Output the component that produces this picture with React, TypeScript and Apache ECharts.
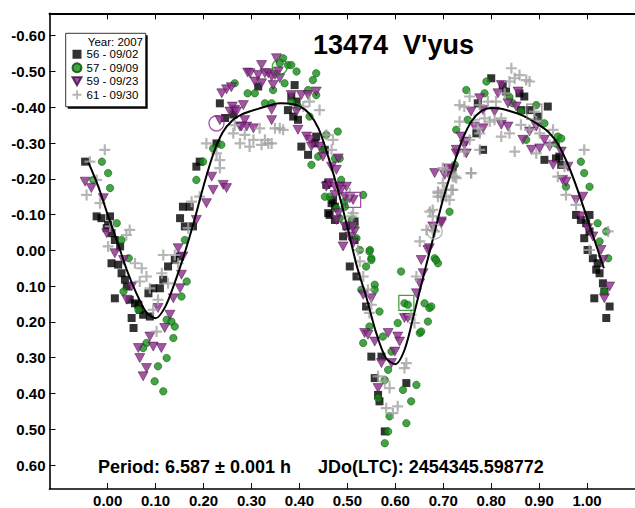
import React, { useEffect, useRef } from "react";
import * as echarts from "echarts";

const FONT = "'Liberation Sans', Arial, Helvetica, sans-serif";

const seriesNames = ["56 - 09/02", "57 - 09/09", "59 - 09/23", "61 - 09/30"];
const yearLabel = "Year: 2007";
const titleText = "13474  V'yus";
const periodText = "Period: 6.587 \u00b1 0.001 h";
const epochText = "JDo(LTC): 2454345.598772";

const xTicks = [0, 0.1, 0.2, 0.3, 0.4, 0.5, 0.6, 0.7, 0.8, 0.9, 1.0];
const yTicks = [-0.6, -0.5, -0.4, -0.3, -0.2, -0.1, 0, 0.1, 0.2, 0.3, 0.4, 0.5, 0.6];

// [phase, magnitude]
const session56 = [
  [-0.047, -0.248], [-0.023, -0.095], [-0.013, -0.09], [0.005, -0.095], [0.001, -0.071], [-0.002, -0.062],
  [0.008, -0.048], [0.015, -0.029], [0.026, -0.011], [0.008, 0.036], [0.022, 0.04], [0.029, 0.064],
  [0.036, 0.082], [0.04, 0.101], [0.015, 0.134], [0.046, 0.138], [0.057, 0.148], [0.064, 0.152],
  [0.067, 0.166], [0.05, 0.189], [0.054, 0.217], [0.074, 0.18], [0.088, 0.185], [0.085, 0.12],
  [0.095, 0.106], [0.109, 0.106], [0.116, 0.082], [0.126, 0.045], [0.14, 0.027], [0.151, 0.017],
  [0.157, -0.122], [0.151, -0.09], [0.161, -0.067], [0.178, -0.067], [0.171, -0.122], [0.185, -0.234],
  [0.192, -0.248], [0.227, -0.299], [0.234, -0.411], [0.245, -0.37], [0.262, -0.38], [0.314, -0.458],
  [0.39, -0.462], [0.383, -0.43], [0.394, -0.416], [0.376, -0.392], [0.387, -0.374], [0.397, -0.365],
  [0.404, -0.29], [0.418, -0.267], [0.435, -0.318], [0.432, -0.299], [0.453, -0.281], [0.46, -0.188],
  [0.467, -0.132], [0.474, -0.122], [0.46, -0.104], [0.491, -0.039], [0.498, -0.067], [0.515, -0.081],
  [0.515, -0.029], [0.456, -0.183], [0.463, -0.099], [0.474, -0.085], [0.47, -0.141], [0.505, 0.045],
  [0.519, 0.073], [0.539, 0.157], [0.55, 0.297], [0.571, 0.297], [0.557, 0.357], [0.564, 0.404],
  [0.567, 0.422], [0.578, 0.506], [0.623, 0.371], [0.8, -0.481], [0.824, -0.462], [0.831, -0.444],
  [0.859, -0.439], [0.869, -0.43], [0.88, -0.392], [0.918, -0.402], [0.911, -0.253], [0.935, -0.257],
  [0.942, -0.262], [0.946, -0.239], [0.783, -0.281], [0.769, -0.327], [0.772, -0.411], [0.862, -0.392],
  [0.897, -0.374], [0.977, -0.099], [0.987, -0.085], [1.005, -0.099], [0.998, -0.076], [1.005, -0.053],
  [0.994, -0.034], [1.001, -0.001], [1.012, 0.022], [1.022, 0.036], [1.019, 0.054], [1.026, 0.064],
  [1.015, 0.134], [1.047, 0.157], [1.04, 0.189], [1.033, 0.092], [1.036, 0.115],
];

const session57 = [
  [-0.012, -0.248], [0.001, -0.216], [0.005, -0.174], [-0.03, -0.197], [0.019, -0.076], [0.029, -0.029],
  [0.044, 0.022], [0.033, 0.115], [0.064, 0.166], [0.165, 0.087], [0.154, 0.129], [0.123, 0.194],
  [0.14, 0.213], [0.133, 0.199], [0.137, 0.245], [0.081, 0.259], [0.074, 0.273], [0.123, 0.301],
  [0.105, 0.324], [0.098, 0.366], [0.116, 0.394], [0.185, -0.197], [0.199, -0.248], [0.22, -0.285],
  [0.237, -0.295], [0.161, -0.029], [0.265, -0.467], [0.292, -0.439], [0.307, -0.439], [0.328, -0.411],
  [0.342, -0.411], [0.345, -0.448], [0.366, -0.537], [0.359, -0.523], [0.376, -0.518], [0.383, -0.518],
  [0.394, -0.5], [0.369, -0.467], [0.418, -0.448], [0.435, -0.434], [0.428, -0.476], [0.435, -0.495],
  [0.421, -0.374], [0.383, -0.416], [0.397, -0.402], [0.425, -0.239], [0.439, -0.262], [0.449, -0.281],
  [0.456, -0.323], [0.474, -0.257], [0.48, -0.332], [0.484, -0.257], [0.487, -0.197], [0.463, -0.15],
  [0.477, -0.118], [0.495, -0.122], [0.509, -0.085], [0.515, -0.071], [0.533, -0.155], [0.547, -0.001],
  [0.55, 0.022], [0.453, -0.15], [0.494, -0.136], [0.484, -0.09], [0.519, -0.034], [0.526, -0.001],
  [0.546, 0.003], [0.55, 0.027], [0.539, 0.045], [0.557, 0.096], [0.557, 0.11], [0.529, 0.11],
  [0.567, 0.171], [0.546, 0.213], [0.533, 0.259], [0.574, 0.241], [0.605, 0.203], [0.612, 0.059],
  [0.619, 0.148], [0.626, 0.152], [0.592, 0.283], [0.585, 0.334], [0.578, 0.362], [0.564, 0.413],
  [0.588, 0.464], [0.623, 0.483], [0.633, 0.422], [0.616, 0.39], [0.644, 0.376], [0.578, 0.539],
  [0.585, 0.506], [0.651, 0.231], [0.654, 0.227], [0.668, 0.199], [0.671, 0.161], [0.661, 0.148],
  [0.682, 0.022], [0.689, 0.036], [0.713, -0.108], [0.748, -0.448], [0.79, -0.472], [0.751, -0.365],
  [0.727, -0.337], [0.786, -0.439], [0.845, -0.411], [0.862, -0.388], [0.873, -0.309], [0.911, -0.355],
  [0.939, -0.318], [0.946, -0.313], [0.935, -0.299], [0.987, -0.248], [0.994, -0.216], [1.005, -0.178],
  [0.956, -0.178], [1.022, -0.076], [1.026, -0.025], [1.04, -0.053], [1.044, 0.022], [1.036, 0.115],
  [0.685, 0.027], [0.72, -0.225], [0.724, -0.239], [0.675, 0.157], [0.838, -0.429], [0.894, -0.406],
];

const session59 = [
  [-0.047, -0.192], [-0.034, -0.174], [-0.009, -0.146], [-0.002, -0.048], [0.015, 0.008], [0.033, 0.027],
  [0.05, 0.101], [0.04, 0.138], [0.105, 0.161], [0.137, 0.134], [0.151, 0.106], [0.154, 0.068],
  [0.147, -0.006], [0.157, 0.017], [0.185, -0.085], [0.206, -0.132], [0.217, -0.206], [0.22, -0.169],
  [0.241, -0.183], [0.248, -0.174], [0.13, 0.18], [0.119, 0.217], [0.088, 0.241], [0.064, 0.273],
  [0.095, 0.269], [0.112, 0.273], [0.067, 0.301], [0.081, 0.329], [0.074, 0.352], [0.234, -0.364],
  [0.255, -0.388], [0.276, -0.346], [0.238, -0.439], [0.248, -0.45], [0.258, -0.456], [0.292, -0.497],
  [0.265, -0.393], [0.342, -0.393], [0.321, -0.518], [0.352, -0.537], [0.297, -0.495], [0.314, -0.49],
  [0.328, -0.495], [0.335, -0.495], [0.342, -0.486], [0.349, -0.49], [0.356, -0.5], [0.359, -0.481],
  [0.307, -0.472], [0.321, -0.467], [0.345, -0.462], [0.283, -0.406], [0.342, -0.364], [0.26, -0.402],
  [0.269, -0.388], [0.286, -0.364], [0.29, -0.346], [0.279, -0.346], [0.304, -0.341], [0.383, -0.434],
  [0.404, -0.434], [0.418, -0.434], [0.435, -0.444], [0.394, -0.388], [0.397, -0.337], [0.415, -0.318],
  [0.422, -0.309], [0.425, -0.29], [0.442, -0.29], [0.449, -0.262], [0.456, -0.178], [0.463, -0.188],
  [0.474, -0.178], [0.467, -0.234], [0.477, -0.225], [0.484, -0.178], [0.495, -0.15], [0.512, -0.141],
  [0.498, -0.178], [0.477, -0.085], [0.495, -0.067], [0.515, -0.053], [0.512, -0.02], [0.491, -0.011],
  [0.505, -0.039], [0.481, -0.257], [0.474, -0.155], [0.487, -0.169], [0.505, -0.146], [0.481, -0.104],
  [0.512, -0.067], [0.533, 0.124], [0.55, 0.134], [0.536, 0.231], [0.543, 0.236], [0.557, 0.255],
  [0.585, 0.231], [0.605, 0.241], [0.609, 0.255], [0.599, 0.283], [0.592, 0.315], [0.571, 0.315],
  [0.564, 0.385], [0.619, 0.189], [0.626, 0.189], [0.644, 0.12], [0.651, 0.092], [0.658, 0.064],
  [0.654, 0.027], [0.668, -0.001], [0.678, -0.067], [0.696, -0.081], [0.682, -0.216], [0.71, -0.216],
  [0.72, -0.225], [0.727, -0.271], [0.748, -0.271], [0.776, -0.425], [0.821, -0.462], [0.814, -0.439],
  [0.856, -0.444], [0.758, -0.388], [0.783, -0.392], [0.807, -0.388], [0.765, -0.346], [0.783, -0.341],
  [0.821, -0.351], [0.835, -0.346], [0.866, -0.309], [0.88, -0.332], [0.884, -0.281], [0.901, -0.285],
  [0.911, -0.309], [0.894, -0.346], [0.922, -0.29], [0.929, -0.239], [0.946, -0.276], [0.96, -0.234],
  [0.949, -0.197], [0.956, -0.192], [0.977, -0.141], [0.991, -0.15], [1.001, -0.062], [1.012, -0.039],
  [0.987, -0.095], [1.029, -0.001], [1.033, 0.027], [1.047, 0.101], [1.036, 0.134], [0.748, -0.304],
  [0.744, -0.295], [0.727, -0.281], [0.737, -0.318], [0.71, -0.229], [0.703, -0.211], [0.696, -0.076],
  [0.671, -0.006], [0.835, -0.411], [0.852, -0.402],
];

const session61 = [
  [-0.006, -0.281], [-0.037, -0.248], [-0.044, -0.155], [-0.023, -0.197], [-0.016, -0.132], [0.005, -0.067],
  [0.001, -0.011], [0.046, -0.057], [0.039, -0.043], [0.057, 0.036], [0.071, 0.05], [0.081, 0.073],
  [0.067, 0.087], [0.088, 0.106], [0.116, 0.013], [0.14, 0.013], [0.147, 0.036], [0.113, 0.064],
  [0.126, 0.092], [0.105, 0.138], [0.095, 0.166], [0.102, 0.227], [0.168, -0.062], [0.175, -0.136],
  [0.192, -0.15], [0.227, -0.271], [0.234, -0.252], [0.234, -0.23], [0.206, -0.299], [0.262, -0.327],
  [0.276, -0.299], [0.296, -0.29], [0.265, -0.35], [0.286, -0.323], [0.317, -0.341], [0.349, -0.341],
  [0.359, -0.341], [0.366, -0.337], [0.304, -0.309], [0.321, -0.295], [0.328, -0.309], [0.335, -0.299],
  [0.342, -0.299], [0.408, -0.402], [0.421, -0.416], [0.442, -0.392], [0.456, -0.323], [0.47, -0.309],
  [0.467, -0.281], [0.505, -0.16], [0.512, -0.104], [0.509, -0.095], [0.526, 0.031], [0.533, 0.073],
  [0.522, -0.001], [0.543, 0.11], [0.55, 0.152], [0.546, 0.175], [0.564, 0.352], [0.578, 0.366],
  [0.588, 0.385], [0.605, 0.436], [0.595, 0.455], [0.581, 0.441], [0.623, 0.315], [0.619, 0.329],
  [0.64, 0.203], [0.633, 0.18], [0.644, 0.073], [0.651, -0.025], [0.665, -0.057], [0.682, -0.053],
  [0.672, -0.108], [0.678, -0.095], [0.689, -0.15], [0.689, -0.164], [0.703, -0.169], [0.717, -0.169],
  [0.713, -0.141], [0.706, -0.225], [0.699, -0.23], [0.724, -0.206], [0.758, -0.216], [0.744, -0.276],
  [0.842, -0.509], [0.859, -0.49], [0.873, -0.476], [0.88, -0.472], [0.838, -0.472], [0.849, -0.481],
  [0.828, -0.439], [0.734, -0.406], [0.755, -0.43], [0.744, -0.402], [0.776, -0.406], [0.793, -0.416],
  [0.81, -0.416], [0.821, -0.369], [0.734, -0.36], [0.786, -0.369], [0.797, -0.36], [0.807, -0.365],
  [0.765, -0.365], [0.772, -0.341], [0.776, -0.327], [0.755, -0.309], [0.821, -0.318], [0.838, -0.327],
  [0.862, -0.351], [0.849, -0.276], [0.88, -0.337], [0.894, -0.36], [0.901, -0.327], [0.929, -0.337],
  [0.922, -0.295], [0.776, -0.281], [0.758, -0.216], [0.72, -0.206], [0.727, -0.202], [0.699, -0.188],
  [0.706, -0.15], [0.696, -0.15], [0.72, -0.169], [0.689, -0.16], [0.678, -0.113], [0.678, -0.057],
  [0.994, -0.281], [0.939, -0.206], [0.956, -0.155], [0.977, -0.127], [1.044, -0.053], [1.005, -0.001],
  [0.89, -0.388], [0.953, -0.234], [0.894, -0.271],
];

// hollow "session start" markers: [phase, mag]
const openCircles59 = [[0.227, -0.355]];
const openCircles57 = [[0.359, -0.513]];
const openSquares59 = [[0.512, -0.141]];
const openSquares57 = [[0.623, 0.147]];
const openCircles61 = [[0.682, -0.053]];
const openSquares61 = [[0.89, -0.388]];

// Fourier fit curve
const fitPhase = [
  -0.04, -0.02, 0.0, 0.02, 0.04, 0.06, 0.08, 0.1, 0.12, 0.14, 0.16, 0.18, 0.2, 0.22, 0.24, 0.26, 0.28,
  0.3, 0.32, 0.34, 0.36, 0.38, 0.4, 0.42, 0.44, 0.46, 0.48, 0.5, 0.52, 0.54, 0.56, 0.58, 0.6, 0.62,
  0.64, 0.66, 0.68, 0.7, 0.72, 0.74, 0.76, 0.78, 0.8, 0.82, 0.84, 0.86, 0.88, 0.9, 0.92, 0.94, 0.96,
  0.98, 1.0, 1.02, 1.035,
];
const fitMag = [
  -0.245, -0.18, -0.1, -0.025, 0.055, 0.12, 0.172, 0.19, 0.158, 0.09, 0.01, -0.08, -0.18, -0.268,
  -0.33, -0.363, -0.38, -0.39, -0.398, -0.406, -0.411, -0.41, -0.403, -0.383, -0.34, -0.262, -0.17,
  -0.065, 0.045, 0.133, 0.23, 0.3, 0.318, 0.275, 0.172, 0.065, -0.04, -0.145, -0.232, -0.31, -0.363,
  -0.39, -0.398, -0.396, -0.389, -0.38, -0.367, -0.35, -0.33, -0.295, -0.24, -0.17, -0.09, -0.01, 0.05,
];

const BLACK = "#000000";
const GREEN = "#158c15";
const PURPLE = "#8b2a8b";
const GRAY = "#a2a2a2";

const TRI_DOWN = "path://M0,0L10,0L5,9Z";
const PLUS = "path://M4,0H6V4H10V6H6V10H4V6H0V4H4Z";

export default function App() {
  const ref = useRef<HTMLDivElement>(null);
  useEffect(() => {
    document.body.style.margin = "0";
    const chart = echarts.init(ref.current!, null, { renderer: "svg" });
    const axisLine = { show: true, onZero: false, lineStyle: { color: "#000", width: 1.6 } };
    const tickLabel = {
      color: "#000",
      fontFamily: FONT,
      fontWeight: "bold" as const,
      fontSize: 15,
      formatter: (v: number) => v.toFixed(2),
    };
    const openMark = (data: number[][], symbol: string, color: string, name: string) => ({
      type: "scatter",
      name,
      data,
      symbol,
      symbolSize: 15,
      itemStyle: { color: "rgba(0,0,0,0)", borderColor: color, borderWidth: 1.3 },
      z: 4,
    });
    const fitCurve = fitPhase.map((p, i) => [p, fitMag[i]]);
    chart.setOption({
      animation: false,
      backgroundColor: "#ffffff",
      textStyle: { fontFamily: FONT },
      grid: { left: 49.5, top: 13.3, width: 586.2, height: 476 },
      xAxis: [
        {
          type: "value",
          position: "bottom",
          min: -0.1213,
          max: 1.0999,
          axisLine,
          axisTick: { show: true, inside: true, length: 6, customValues: xTicks, lineStyle: { color: "#000", width: 1 } },
          axisLabel: { ...tickLabel, margin: 4, customValues: xTicks },
          splitLine: { show: false },
        },
        {
          type: "value",
          position: "top",
          min: -0.1213,
          max: 1.0999,
          axisLine: { ...axisLine, lineStyle: { color: "#000", width: 2 } },
          axisTick: { show: true, inside: true, length: 6, customValues: xTicks, lineStyle: { color: "#000", width: 1 } },
          axisLabel: { show: false },
          splitLine: { show: false },
        },
      ],
      yAxis: {
        type: "value",
        inverse: true,
        min: -0.6626,
        max: 0.667,
        axisLine,
        axisTick: { show: true, inside: true, length: 6, customValues: yTicks, lineStyle: { color: "#000", width: 1 } },
        axisLabel: { ...tickLabel, margin: 4, customValues: yTicks },
        splitLine: { show: false },
      },
      legend: {
        data: seriesNames,
        orient: "vertical",
        left: 71.5,
        top: 47.5,
        itemWidth: 9,
        itemHeight: 9,
        itemGap: 0,
        padding: 0,
        selectedMode: false,
        z: 10,
        textStyle: { color: "#000", fontFamily: FONT, fontSize: 11.5, lineHeight: 13.5 },
      },
      graphic: [
        { type: "rect", z: 9, shape: { x: 67.7, y: 35.3, width: 80, height: 73.4 }, style: { fill: "#000" } },
        { type: "rect", z: 9, shape: { x: 65.7, y: 33.3, width: 80, height: 73.4 }, style: { fill: "#fff", stroke: "#333", lineWidth: 1 } },
        {
          type: "text", z: 10, x: 143, y: 41.7,
          style: { text: yearLabel, fill: "#000", font: `11.5px ${FONT}`, align: "right", verticalAlign: "middle" },
        },
        {
          type: "text", z: 10, x: 313, y: 45,
          style: { text: titleText, fill: "#000", font: `bold 27px ${FONT}`, align: "left", verticalAlign: "middle" },
        },
        {
          type: "text", z: 10, x: 98, y: 467,
          style: { text: periodText, fill: "#000", font: `bold 18px ${FONT}`, align: "left", verticalAlign: "middle" },
        },
        {
          type: "text", z: 10, x: 318, y: 467,
          style: { text: epochText, fill: "#000", font: `bold 18px ${FONT}`, align: "left", verticalAlign: "middle" },
        },
      ],
      series: [
        {
          type: "scatter", name: seriesNames[0], data: session56, symbol: "rect", symbolSize: 8,
          itemStyle: { color: BLACK }, z: 2,
        },
        {
          type: "scatter", name: seriesNames[1], data: session57, symbol: "circle", symbolSize: 7.5,
          itemStyle: { color: GREEN, borderColor: "#064d06", borderWidth: 0.6 }, z: 2,
        },
        {
          type: "scatter", name: seriesNames[2], data: session59, symbol: TRI_DOWN, symbolSize: [10, 9],
          itemStyle: { color: PURPLE, borderColor: "#3a083a", borderWidth: 0.6 }, z: 2,
        },
        {
          type: "scatter", name: seriesNames[3], data: session61, symbol: PLUS, symbolSize: 11,
          itemStyle: { color: GRAY }, z: 2,
        },
        openMark(openCircles59, "circle", PURPLE, "o59c"),
        openMark(openCircles57, "circle", GREEN, "o57c"),
        openMark(openSquares59, "rect", PURPLE, "o59s"),
        openMark(openSquares57, "rect", GREEN, "o57s"),
        openMark(openCircles61, "circle", GRAY, "o61c"),
        openMark(openSquares61, "rect", "#777", "o61s"),
        {
          type: "line", name: "fit", data: fitCurve, smooth: 0.3, showSymbol: false, symbol: "none",
          lineStyle: { color: "#000", width: 2 }, z: 3, silent: true,
        },
      ],
    });
    return () => chart.dispose();
  }, []);
  return <div ref={ref} style={{ width: 635, height: 508 }} />;
}
